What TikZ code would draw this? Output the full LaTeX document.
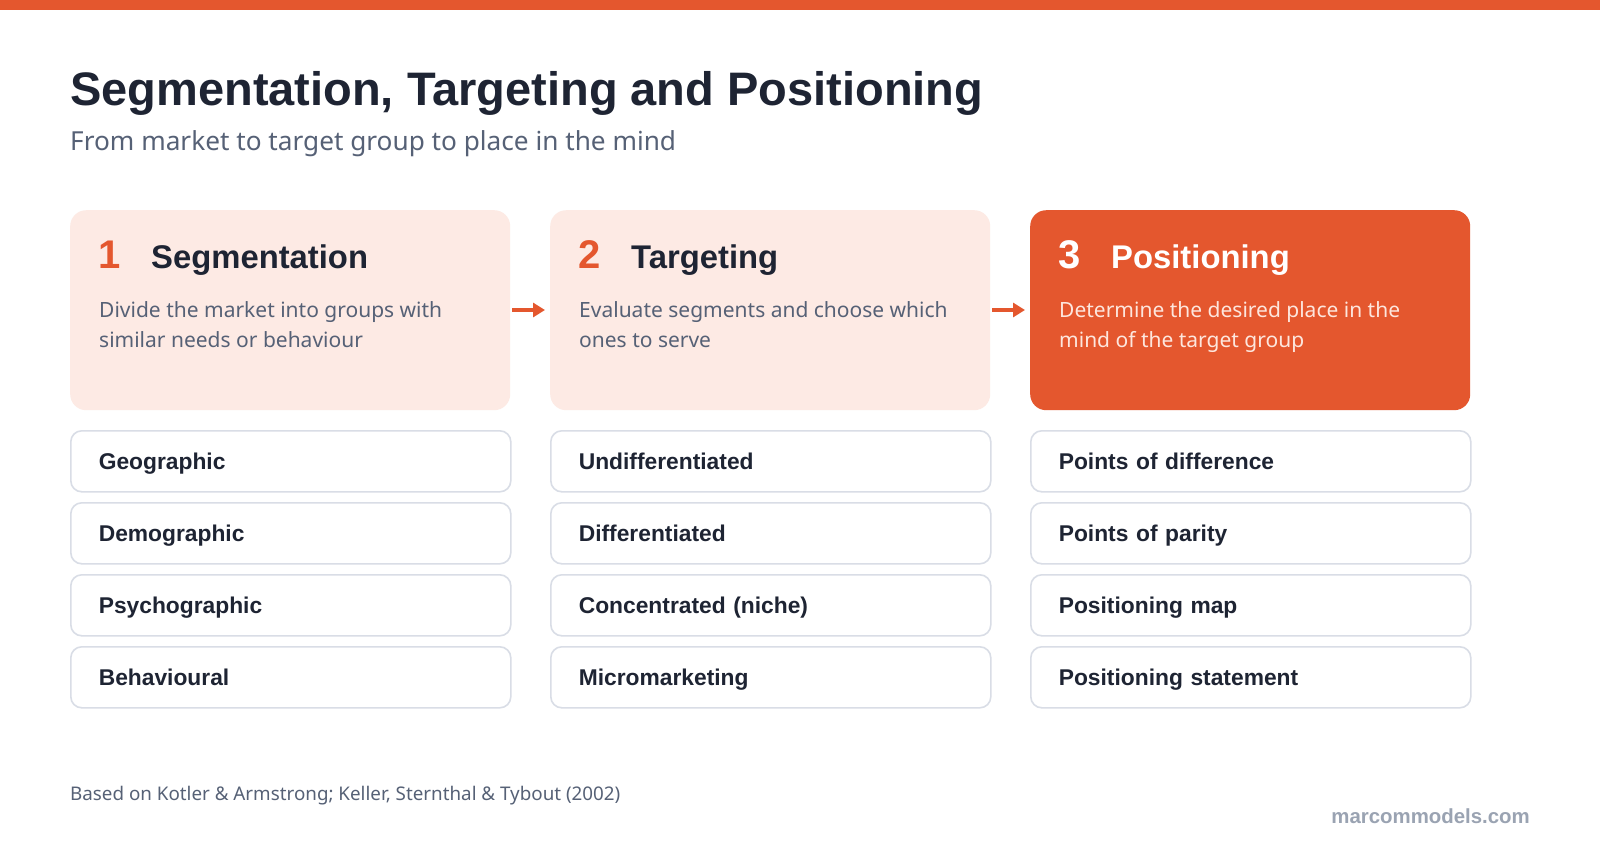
\documentclass[tikz,border=0pt]{standalone}
\usepackage{fontspec}
\setmainfont{Noto Sans}
\newfontfamily\boldfam{Liberation Sans}
\usetikzlibrary{arrows.meta}
\definecolor{accent}{HTML}{E4572E}
\definecolor{peach}{HTML}{FDEAE4}
\definecolor{ink}{HTML}{1E2433}
\definecolor{slate}{HTML}{566176}
\definecolor{edge}{HTML}{D9DDE6}
\definecolor{mute}{HTML}{9AA3B2}
\definecolor{lightpeach}{HTML}{FDE6DD}
\tikzset{
  hdr/.style={rounded corners=16pt, minimum width=440pt, minimum height=200pt, inner sep=0pt, anchor=north west},
  item/.style={draw=edge, line width=1.6pt, fill=white, rounded corners=11pt, minimum height=61pt,
    text width=384pt, inner xsep=28pt, align=left, anchor=north west, text=ink,
    text height=17pt, text depth=0pt,
    font=\boldfam\bfseries\fontsize{22.8}{26}\selectfont},
  num/.style={anchor=base west, inner sep=0pt, font=\boldfam\bfseries\fontsize{40}{46}\selectfont},
  head/.style={anchor=base west, inner sep=0pt, font=\boldfam\bfseries\fontsize{32.8}{38}\selectfont},
  desc/.style={anchor=base west, inner sep=0pt, font=\fontsize{21}{29}\selectfont},
  flow/.style={accent, line width=4pt, -{Triangle[length=12pt,width=14pt]}, shorten <=2pt, shorten >=5pt},
}
\begin{document}
\begin{tikzpicture}[x=1pt,y=-1pt]
\useasboundingbox (0,0) rectangle (1600,860);
\fill[white] (0,0) rectangle (1600,860);
\fill[accent] (0,0) rectangle (1600,10);
\node[anchor=base west, inner sep=0pt, text=ink, font=\boldfam\bfseries\fontsize{47}{54}\selectfont] (title) at (70,105) {Segmentation, Targeting and Positioning};
\node[anchor=base west, inner sep=0pt, text=slate, font=\fontsize{26.2}{31}\selectfont] (sub) at (70,150) {From market to target group to place in the mind};
% header boxes
\node[hdr, fill=peach] (b1) at (70,210) {};
\node[hdr, fill=peach] (b2) at (550,210) {};
\node[hdr, fill=accent] (b3) at (1030,210) {};
\node[num, text=accent] (n1) at (98,268) {1};
\node[head, text=ink] (h1) at (151,268) {Segmentation};
\node[desc, text=slate] (d1a) at (99,317) {Divide the market into groups with};
\node[desc, text=slate] (d1b) at (99,347) {similar needs or behaviour};
\node[num, text=accent] (n2) at (578,268) {2};
\node[head, text=ink] (h2) at (631,268) {Targeting};
\node[desc, text=slate] (d2a) at (579,317) {Evaluate segments and choose which};
\node[desc, text=slate] (d2b) at (579,347) {ones to serve};
\node[num, text=white] (n3) at (1058,268) {3};
\node[head, text=white] (h3) at (1111,268) {Positioning};
\node[desc, text=lightpeach] (d3a) at (1059,317) {Determine the desired place in the};
\node[desc, text=lightpeach] (d3b) at (1059,347) {mind of the target group};
\draw[flow] (b1.east |- 0,310) -- (b2.west |- 0,310);
\draw[flow] (b2.east |- 0,310) -- (b3.west |- 0,310);
% items
\node[item] (s1) at (70,430) {Geographic};
\node[item] (s2) at (70,502) {Demographic};
\node[item] (s3) at (70,574) {Psychographic};
\node[item] (s4) at (70,646) {Behavioural};
\node[item] (t1) at (550,430) {Undifferentiated};
\node[item] (t2) at (550,502) {Differentiated};
\node[item] (t3) at (550,574) {Concentrated (niche)};
\node[item] (t4) at (550,646) {Micromarketing};
\node[item] (p1) at (1030,430) {Points of difference};
\node[item] (p2) at (1030,502) {Points of parity};
\node[item] (p3) at (1030,574) {Positioning map};
\node[item] (p4) at (1030,646) {Positioning statement};
% footer
\node[anchor=base west, inner sep=0pt, text=slate, font=\fontsize{18.8}{22}\selectfont] (src) at (70,800) {Based on Kotler \& Armstrong; Keller, Sternthal \& Tybout (2002)};
\node[anchor=base east, inner sep=0pt, text=mute, font=\boldfam\bfseries\fontsize{20.4}{24}\selectfont] (brand) at (1530,823) {marcommodels.com};
\end{tikzpicture}
\end{document}
